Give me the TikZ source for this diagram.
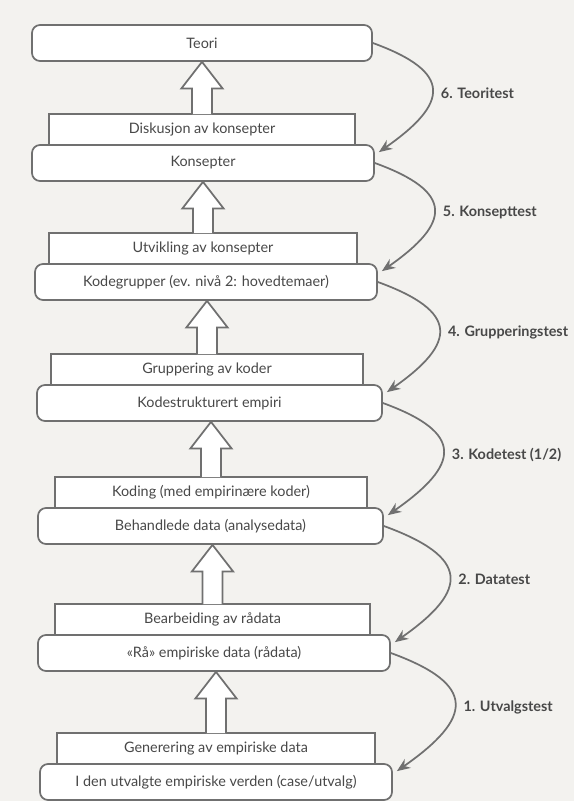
\documentclass[tikz,border=0pt]{standalone}
\usepackage{fontspec}
\setmainfont{Lato}
\usepackage{xcolor}
\usetikzlibrary{shapes,arrows.meta,positioning,calc}
\definecolor{linegray}{RGB}{112,112,112}
\definecolor{textgray}{RGB}{72,72,72}
\definecolor{paper}{RGB}{243,242,239}

\begin{document}
\begin{tikzpicture}[x=0.75pt,y=0.75pt,
	level/.style={draw=linegray,line width=1.3pt,fill=white,rounded corners=6pt,minimum height=27pt,inner sep=0pt,text=textgray,font=\fontsize{10.8}{12}\selectfont},
	process/.style={draw=linegray,line width=1.3pt,fill=white,minimum height=23.25pt,inner sep=0pt,text=textgray,font=\fontsize{10.8}{12}\selectfont},
	fatarrow/.style={draw=linegray,line width=1.3pt,fill=white,line join=miter},
	testarrow/.style={draw=linegray,line width=1.3pt,-{Stealth[length=10pt,width=8pt]},looseness=2},
	testlabel/.style={text=textgray,font=\bfseries\fontsize{10.8}{13}\selectfont,inner sep=0pt}]
	\fill[paper] (0,-801) rectangle (574,0);
	\useasboundingbox (0,-801) rectangle (574,0);
	% steps between the levels
	\node[process,minimum width=229.5pt] (diskusjon) at (202,-129.5) {Diskusjon av konsepter};
	\node[process,minimum width=231pt] (utvikling) at (203,-248.5) {Utvikling av konsepter};
	\node[process,minimum width=234pt] (gruppering) at (207,-369.5) {Gruppering av koder};
	\node[process,minimum width=234pt] (koding) at (211,-492.5) {Koding (med empirinære koder)};
	\node[process,minimum width=236.25pt] (bearbeiding) at (212.5,-619.5) {Bearbeiding av rådata};
	\node[process,minimum width=238.5pt] (generering) at (216,-748.5) {Generering av empiriske data};
	% levels
	\node[level,minimum width=255pt] (teori) at (202,-43) {Teori};
	\node[level,minimum width=256.5pt] (konsepter) at (203,-163) {Konsepter};
	\node[level,minimum width=256.5pt] (kodegrupper) at (206,-282) {Kodegrupper (ev. nivå 2: hovedtemaer)};
	\node[level,minimum width=258.75pt] (kodestruktur) at (209.5,-403) {Kodestrukturert empiri};
	\node[level,minimum width=258.75pt] (behandlede) at (210.5,-526) {Behandlede data (analysedata)};
	\node[level,minimum width=264pt] (raadata) at (214,-653) {«Rå» empiriske data (rådata)};
	\node[level,minimum width=264pt] (verden) at (216,-782) {I den utvalgte empiriske verden (case/utvalg)};
	% hollow arrows upwards
	\foreach \lo/\hi in {diskusjon/teori,utvikling/konsepter,gruppering/kodegrupper,koding/kodestruktur,bearbeiding/behandlede,generering/raadata}
		\filldraw[fatarrow] let \p1=(\lo.north), \p2=(\hi.south) in
			(\x1-7.5pt,\y1-0.7pt) -- (\x1-7.5pt,\y2-20pt) -- (\x1-15.5pt,\y2-20pt) -- (\x1,\y2)
			-- (\x1+15.5pt,\y2-20pt) -- (\x1+7.5pt,\y2-20pt) -- (\x1+7.5pt,\y1-0.7pt);
	% tests
	\draw[testarrow] (teori.east) to[out=-20,in=35] node[testlabel,pos=0.53,right=6pt] {6. Teoritest} ($(konsepter.north east)+(4,-8)$);
	\draw[testarrow] (konsepter.east) to[out=-20,in=35] node[testlabel,pos=0.53,right=6pt] {5. Konsepttest} ($(kodegrupper.north east)+(4,-8)$);
	\draw[testarrow] (kodegrupper.east) to[out=-20,in=35] node[testlabel,pos=0.53,right=6pt] {4. Grupperingstest} ($(kodestruktur.north east)+(4,-8)$);
	\draw[testarrow] (kodestruktur.east) to[out=-20,in=35] node[testlabel,pos=0.53,right=6pt] {3. Kodetest (1/2)} ($(behandlede.north east)+(4,-8)$);
	\draw[testarrow] (behandlede.east) to[out=-20,in=35] node[testlabel,pos=0.53,right=6pt] {2. Datatest} ($(raadata.north east)+(4,-8)$);
	\draw[testarrow] (raadata.east) to[out=-20,in=35] node[testlabel,pos=0.53,right=6pt] {1. Utvalgstest} ($(verden.north east)+(4,-8)$);
\end{tikzpicture}
\end{document}
